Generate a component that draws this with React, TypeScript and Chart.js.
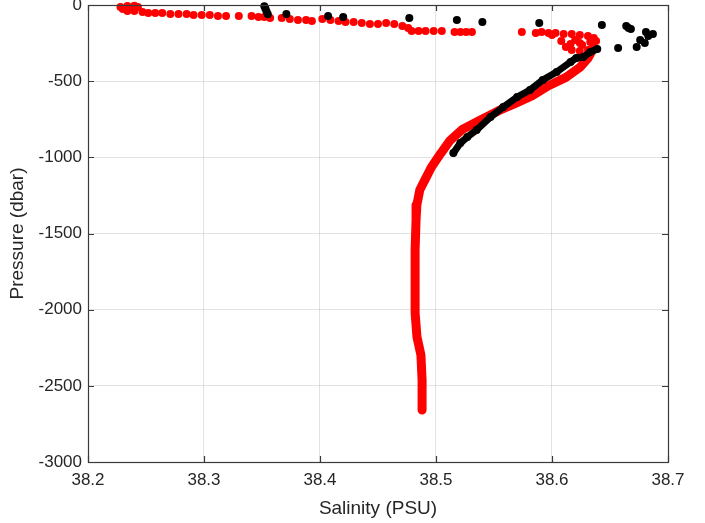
import React, { useEffect, useRef } from "react";
import { Chart, registerables } from "chart.js";

Chart.register(...registerables);

// Red profile: near-surface discrete samples
const redSurfaceSalinity = [
  38.228, 38.230, 38.234, 38.237, 38.240, 38.243, 38.234, 38.240, 38.247, 38.252,
  38.258, 38.264, 38.271, 38.278, 38.285, 38.291, 38.298, 38.305, 38.312, 38.319,
  38.330, 38.341, 38.347, 38.352, 38.357, 38.367, 38.374, 38.381, 38.388, 38.393,
  38.402, 38.409, 38.416, 38.422, 38.429, 38.436, 38.443, 38.450, 38.457, 38.464,
  38.471, 38.476, 38.479, 38.485, 38.491, 38.498, 38.505, 38.516, 38.521, 38.526,
  38.531, 38.574, 38.591, 38.597, 38.603, 38.610, 38.617, 38.624, 38.631, 38.636,
  38.638, 38.633, 38.624, 38.616, 38.612, 38.617, 38.624, 38.631, 38.636, 38.600,
  38.586, 38.620, 38.608, 38.626,
];
const redSurfacePressure = [
  -13, -26, -7, -20, -5, -13, -39, -39, -46, -53,
  -53, -53, -59, -59, -59, -66, -66, -66, -72, -72,
  -72, -72, -79, -79, -85, -85, -92, -98, -98, -105,
  -92, -98, -105, -112, -112, -118, -125, -125, -118, -125,
  -138, -151, -171, -171, -171, -171, -171, -177, -177, -177,
  -177, -177, -177, -184, -184, -190, -190, -197, -204, -217,
  -236, -243, -249, -256, -276, -295, -302, -295, -282, -197,
  -184, -230, -236, -262,
];

// Red profile: continuous deep part
const redProfileSalinity = [
  38.636, 38.631, 38.624, 38.612, 38.597, 38.583, 38.568, 38.554, 38.537, 38.523,
  38.512, 38.504, 38.496, 38.491, 38.486, 38.4835, 38.4828, 38.482, 38.482, 38.482,
  38.4836, 38.487, 38.488, 38.488,
];
const redProfilePressure = [
  -280, -350, -410, -475, -530, -595, -648, -694, -760, -815,
  -890, -975, -1065, -1140, -1215, -1313, -1412, -1608, -1805, -2022,
  -2180, -2298, -2462, -2659,
];

// Black profile: scattered samples
const blackSalinity = [
  38.352, 38.353, 38.354, 38.355, 38.371, 38.407, 38.420, 38.477, 38.518, 38.540,
  38.589, 38.643, 38.664, 38.666, 38.668, 38.681, 38.687, 38.683, 38.676, 38.680,
  38.673, 38.657,
];
const blackPressure = [
  -8, -25, -45, -60, -59, -72, -79, -85, -98, -112,
  -118, -131, -138, -151, -158, -177, -190, -204, -230, -249,
  -276, -282,
];

// Black profile: continuous part
const blackLineSalinity = [
  38.639, 38.633, 38.627, 38.621, 38.616, 38.604, 38.592, 38.581, 38.570, 38.558,
  38.547, 38.535, 38.527, 38.521, 38.515,
];
const blackLinePressure = [
  -289, -309, -341, -348, -374, -440, -492, -558, -604, -670,
  -735, -821, -867, -906, -972,
];

const xTicks = [38.2, 38.3, 38.4, 38.5, 38.6, 38.7];
const yTicks = [0, -500, -1000, -1500, -2000, -2500, -3000];

const zip = (xs: number[], ys: number[]) => xs.map((x, i) => ({ x, y: ys[i] }));

const FONT = "Liberation Sans, Arial, Helvetica, sans-serif";
const TEXT = "#262626";
const AXIS = "#3a3a3a";

const boxPlugin = {
  id: "matlabBox",
  afterDraw(chart: any) {
    const { ctx, chartArea: a, scales } = chart;
    const xs = scales.x;
    const ys = scales.y;
    ctx.save();
    ctx.strokeStyle = AXIS;
    ctx.lineWidth = 1.2;
    ctx.beginPath();
    const tl = 6;
    xTicks.forEach((v) => {
      const px = Math.round(xs.getPixelForValue(v)) + 0.5;
      ctx.moveTo(px, a.bottom);
      ctx.lineTo(px, a.bottom - tl);
      ctx.moveTo(px, a.top);
      ctx.lineTo(px, a.top + tl);
    });
    yTicks.forEach((v) => {
      const py = Math.round(ys.getPixelForValue(v)) + 0.5;
      ctx.moveTo(a.left, py);
      ctx.lineTo(a.left + tl, py);
      ctx.moveTo(a.right, py);
      ctx.lineTo(a.right - tl, py);
    });
    ctx.stroke();
    ctx.strokeRect(
      Math.round(a.left) + 0.5,
      Math.round(a.top) + 0.5,
      Math.round(a.right - a.left),
      Math.round(a.bottom - a.top)
    );
    ctx.restore();
  },
};

export default function App() {
  const ref = useRef<HTMLCanvasElement | null>(null);

  useEffect(() => {
    if (!ref.current) return;
    const chart = new Chart(ref.current, {
      type: "scatter",
      data: {
        datasets: [
          {
            label: "black points",
            data: zip(blackSalinity, blackPressure),
            backgroundColor: "#000000",
            borderWidth: 0,
            pointRadius: 4,
            clip: false,
          } as any,
          {
            label: "black profile",
            data: zip(blackLineSalinity, blackLinePressure),
            showLine: true,
            borderColor: "#000000",
            backgroundColor: "#000000",
            borderWidth: 7,
            borderCapStyle: "round",
            borderJoinStyle: "round",
            pointRadius: 4,
            pointBorderWidth: 0,
            clip: false,
          } as any,
          {
            label: "red surface",
            data: zip(redSurfaceSalinity, redSurfacePressure),
            backgroundColor: "#ff0000",
            borderWidth: 0,
            pointRadius: 4,
            clip: false,
          } as any,
          {
            label: "red profile",
            data: zip(redProfileSalinity, redProfilePressure),
            showLine: true,
            borderColor: "#ff0000",
            backgroundColor: "#ff0000",
            borderWidth: 9,
            borderCapStyle: "round",
            borderJoinStyle: "round",
            pointRadius: 0,
            clip: false,
          } as any,
        ],
      },
      options: {
        responsive: false,
        animation: false,
        events: [],
        layout: { padding: { left: 0, top: 5, right: 37, bottom: 0 } },
        plugins: {
          legend: { display: false },
          tooltip: { enabled: false },
          title: { display: false },
        },
        scales: {
          x: {
            type: "linear",
            min: 38.2,
            max: 38.7,
            afterFit: (s: any) => {
              s.height = 61;
              s.paddingLeft = 0;
              s.paddingRight = 0;
            },
            afterBuildTicks: (s: any) => {
              s.ticks = xTicks.map((v) => ({ value: v }));
            },
            ticks: {
              color: TEXT,
              font: { family: FONT, size: 17 },
              padding: 8,
              maxRotation: 0,
              callback: (v: any) => Number(v).toFixed(1),
            },
            grid: { color: "rgba(0,0,0,0.11)", drawTicks: false, lineWidth: 1 },
            border: { display: false },
            title: {
              display: true,
              text: "Salinity (PSU)",
              color: TEXT,
              font: { family: FONT, size: 19 },
              padding: { top: 0, bottom: 3 },
            },
          },
          y: {
            type: "linear",
            min: -3000,
            max: 0,
            afterFit: (s: any) => {
              s.width = 88;
              s.paddingTop = 0;
              s.paddingBottom = 0;
            },
            afterBuildTicks: (s: any) => {
              s.ticks = yTicks.map((v) => ({ value: v }));
            },
            ticks: {
              color: TEXT,
              font: { family: FONT, size: 17 },
              padding: 6,
              callback: (v: any) => String(v),
            },
            grid: { color: "rgba(0,0,0,0.11)", drawTicks: false, lineWidth: 1 },
            border: { display: false },
            title: {
              display: true,
              text: "Pressure (dbar)",
              color: TEXT,
              font: { family: FONT, size: 19 },
              padding: { top: 6, bottom: 0 },
            },
          },
        },
      },
      plugins: [boxPlugin],
    });
    return () => chart.destroy();
  }, []);

  return (
    <div style={{ position: "absolute", left: 0, top: 0, width: 705, height: 523, background: "#fff" }}>
      <canvas ref={ref} width={705} height={523} style={{ display: "block", width: 705, height: 523 }} />
    </div>
  );
}
